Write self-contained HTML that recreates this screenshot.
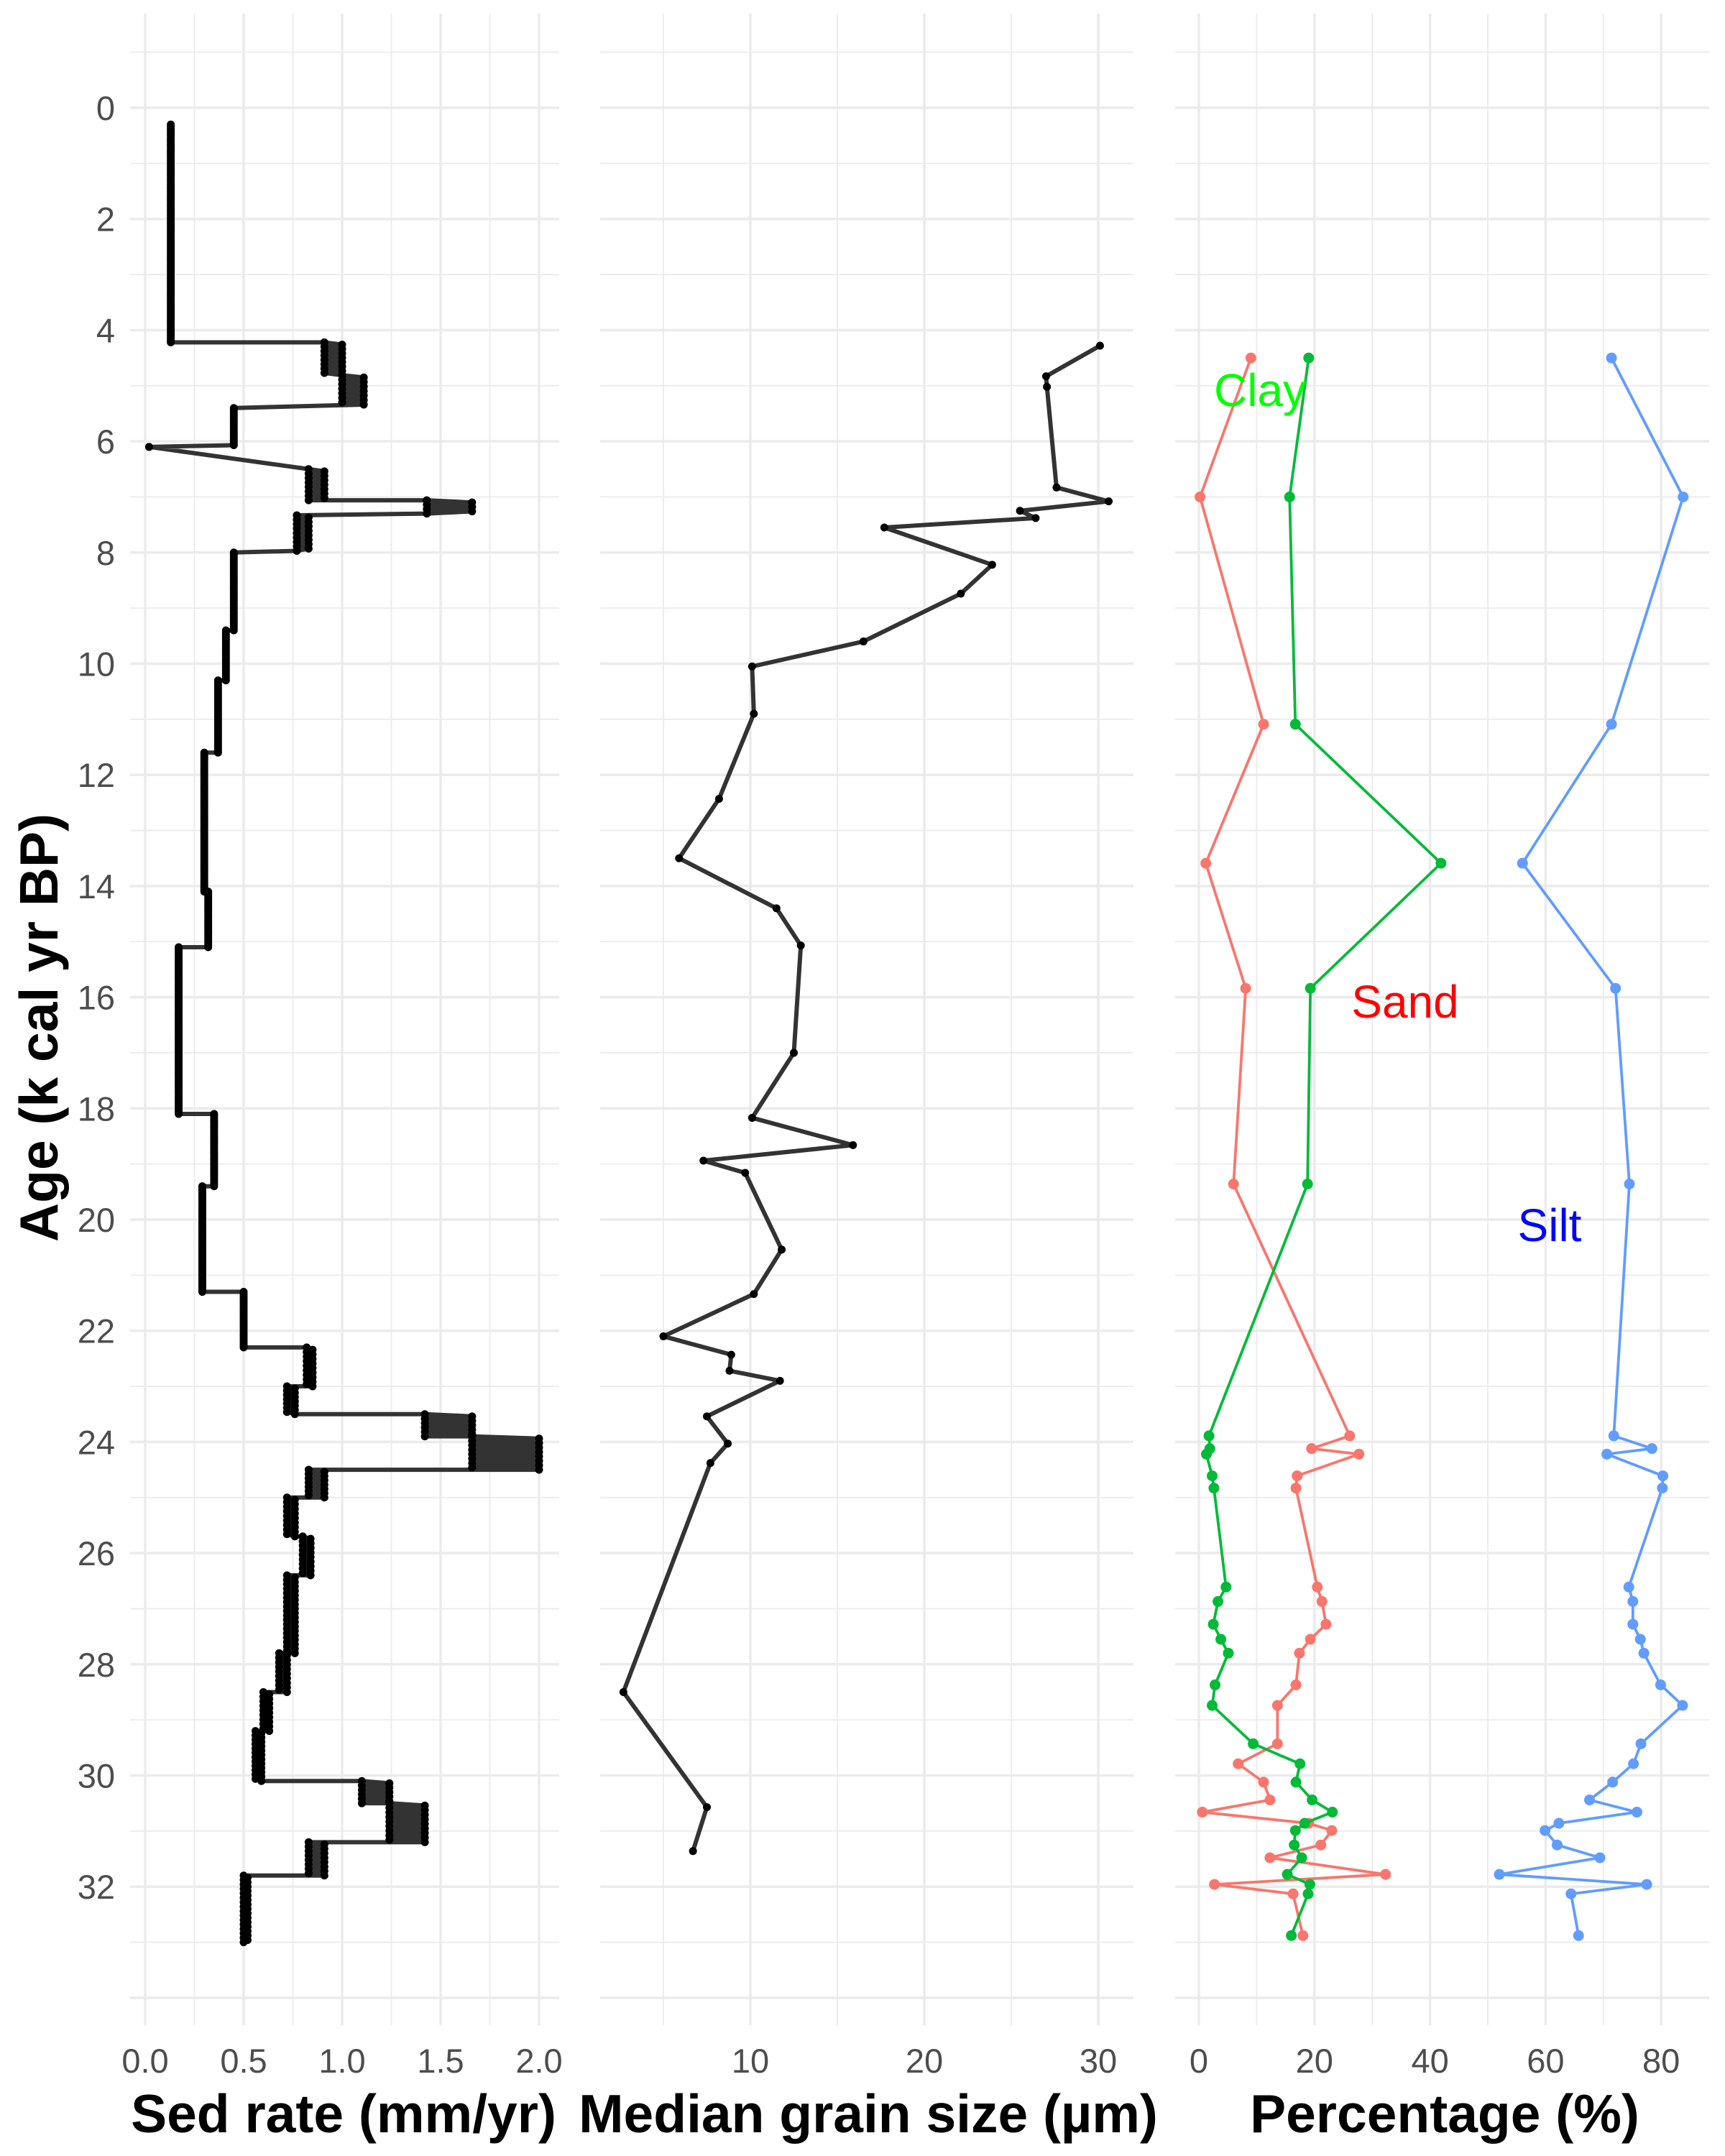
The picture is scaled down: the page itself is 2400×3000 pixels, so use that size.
<!DOCTYPE html>
<html><head><meta charset="utf-8"><style>
html,body{margin:0;padding:0;background:#fff}
svg{display:block}
text{font-family:"Liberation Sans",sans-serif}
</style></head><body>
<svg id="chart" width="2400" height="3000" viewBox="0 0 2400 3000" xmlns="http://www.w3.org/2000/svg"></svg>
<script>
// ---- Data ----
const sedStart = [0.3,4.22,4.81,5.4,6.1,6.5,7.06,7.33,8.0,9.4,10.3,11.6,14.1,15.1,18.1,19.4,21.3,22.3,23.0,23.5,23.9,24.5,25.0,25.7,26.4,27.8,28.5,29.2,30.1,30.5,31.2,31.8];
const sedEnd   = [4.22,4.81,5.34,6.07,6.1,7.06,7.3,7.97,9.4,10.3,11.6,14.1,15.1,18.1,19.4,21.3,22.3,23.0,23.5,23.9,24.5,25.0,25.7,26.4,27.8,28.5,29.2,30.1,30.5,31.2,31.8,33.0];
const sedRateA = [0.13,0.91,1.0,0.45,0.02,0.83,1.43,0.77,0.45,0.41,0.37,0.30,0.32,0.17,0.35,0.29,0.5,0.82,0.72,1.42,1.66,0.83,0.72,0.80,0.72,0.68,0.60,0.56,1.10,1.24,0.83,0.50];
const sedRateB = [0.13,1.0,1.11,0.45,0.02,0.91,1.66,0.83,0.45,0.41,0.37,0.30,0.32,0.17,0.35,0.29,0.5,0.85,0.76,1.66,2.0,0.91,0.76,0.84,0.76,0.72,0.63,0.59,1.24,1.42,0.91,0.52];
const sedTicks = [0,0.5,1,1.5,2];
const sedTickLabels = ["0.0","0.5","1.0","1.5","2.0"];

const grainAge = [4.28,4.83,5.02,6.83,7.08,7.25,7.38,7.55,8.22,8.74,9.6,10.05,10.9,12.43,13.5,14.4,15.07,17.0,18.17,18.66,18.94,19.16,20.54,21.34,22.1,22.43,22.72,22.9,23.54,24.03,24.38,28.5,30.57,31.36];
const grainVal = [30.1,27.0,27.05,27.6,30.6,25.5,26.4,17.7,23.9,22.1,16.5,10.1,10.2,8.2,5.9,11.5,12.9,12.5,10.1,15.9,7.3,9.7,11.8,10.2,5.0,8.9,8.8,11.7,7.5,8.7,7.7,2.7,7.5,6.7];
const grainTicks = [10,20,30];

const pctAge  = [4.5,7.0,11.09,13.59,15.84,19.36,23.89,24.12,24.22,24.61,24.83,26.61,26.87,27.28,27.55,27.8,28.37,28.74,29.43,29.79,30.12,30.44,30.66,30.86,30.99,31.25,31.48,31.78,31.96,32.13,32.88];
const sandPct = [9.0,0.2,11.2,1.2,8.1,6.0,26.1,19.5,27.7,17.0,16.8,20.5,21.3,22.0,19.3,17.4,16.8,13.6,13.6,6.8,11.2,12.3,0.6,19.0,23.0,21.1,12.3,32.3,2.7,16.3,18.0];
const clayPct = [19.0,15.7,16.7,41.9,19.3,18.8,1.75,1.9,1.3,2.3,2.6,4.7,3.3,2.5,3.8,5.1,2.8,2.3,9.4,17.5,16.8,19.6,23.1,18.3,16.7,16.5,17.8,15.3,19.2,18.9,16.0];
const siltPct = [71.4,83.8,71.4,56.0,72.1,74.5,71.8,78.4,70.6,80.3,80.2,74.4,75.1,75.1,76.4,77.0,79.9,83.7,76.5,75.2,71.6,67.6,75.8,62.3,59.9,62.0,69.4,52.0,77.5,64.4,65.7];
const pctTicks = [0,20,40,60,80];
const ageTicks = [0,2,4,6,8,10,12,14,16,18,20,22,24,26,28,30,32];

// ---- Scales ----
const svg = document.getElementById('chart');
const NS = 'http://www.w3.org/2000/svg';
const yS = a => 150 + 77.35 * a;
const xSed = v => 202 + 274 * v;
const xGrain = v => 1044 + 24.2 * (v - 10);
const xPct = v => 1668 + 8.04 * v;
const TOP = 19, BOT = 2818;
function mk(tag, attrs, parent){const e=document.createElementNS(NS,tag);for(const k in attrs)e.setAttribute(k,attrs[k]);(parent||svg).appendChild(e);return e;}

function panel(name,x0,x1,vMinor,vMajor,xs){
  const g = mk('g',{});
  
  
  for(let a=-1;a<=34;a++){
    const major=a%2===0;
    mk('line',{x1:x0,x2:x1,y1:yS(a),y2:yS(a),stroke:'#EBEBEB','stroke-width':major?3.5:1.8},g);
  }
  vMinor.forEach(v=>mk('line',{x1:xs(v),x2:xs(v),y1:TOP,y2:BOT,stroke:'#EBEBEB','stroke-width':1.8},g));
  vMajor.forEach(v=>mk('line',{x1:xs(v),x2:xs(v),y1:TOP,y2:BOT,stroke:'#EBEBEB','stroke-width':3.5},g));
}
panel('sed-rate',181,778,[0.25,0.75,1.25,1.75],sedTicks,xSed);
panel('grain-size',835,1577,[5,15,25],grainTicks,xGrain);
panel('percentage',1635,2378,[10,30,50,70],pctTicks,xPct);

const yt = mk('g',{});


ageTicks.forEach(a=>{const t=mk('text',{x:160,y:yS(a)+17,'text-anchor':'end','font-size':47,fill:'#4D4D4D'},yt);t.textContent=a;});
const yTitle = mk('text',{x:0,y:0,transform:'translate(80,1430) rotate(-90)','text-anchor':'middle','font-size':75,'font-weight':'bold',fill:'#000'});


yTitle.textContent='Age (k cal yr BP)';

function xticks(name,ticks,labels,xs){
  const g=mk('g',{});
  
  
  ticks.forEach((v,i)=>{const t=mk('text',{x:xs(v),y:2884,'text-anchor':'middle','font-size':47,fill:'#4D4D4D'},g);t.textContent=labels[i];});
}
xticks('sed-rate',sedTicks,sedTickLabels,xSed);
xticks('grain-size',grainTicks,grainTicks.map(String),xGrain);
xticks('percentage',pctTicks,pctTicks.map(String),xPct);
function xtitle(name,txt,cx){const t=mk('text',{x:cx,y:2967,'text-anchor':'middle','font-size':75,'font-weight':'bold',fill:'#000'});t.textContent=txt;}
xtitle('sed-rate-x-title','Sed rate (mm/yr)',478);
xtitle('grain-size-x-title','Median grain size (µm)',1208);
xtitle('percentage-x-title','Percentage (%)',2010);

// ---- Sed rate ----
const sedPts=[];
for(let i=0;i<sedStart.length;i++){
  const n=Math.max(1,Math.round((sedEnd[i]-sedStart[i])/0.04));
  for(let k=0;k<=n;k++){
    const a=sedStart[i]+(sedEnd[i]-sedStart[i])*k/n;
    const r=(k%2===0)?sedRateA[i]:sedRateB[i];
    sedPts.push([xSed(r),yS(a)]);
  }
}
const sedLine=mk('polyline',{points:sedPts.map(p=>p.join(',')).join(' '),fill:'none',stroke:'#333','stroke-width':6,'stroke-linejoin':'round'});


const sedG=mk('g',{});


sedPts.forEach(p=>mk('circle',{cx:p[0],cy:p[1],r:5.5,fill:'#000'},sedG));

// ---- Grain size ----
const gp=grainAge.map((a,i)=>[xGrain(grainVal[i]),yS(a)]);
const gl=mk('polyline',{points:gp.map(p=>p.join(',')).join(' '),fill:'none',stroke:'#333','stroke-width':6,'stroke-linejoin':'round'});


const gg=mk('g',{});


gp.forEach(p=>mk('circle',{cx:p[0],cy:p[1],r:5.5,fill:'#000'},gg));

// ---- Percentages ----
function pctSeries(name,vals,col){
  const pts=pctAge.map((a,i)=>[xPct(vals[i]),yS(a)]);
  const g=mk('g',{});
  
  
  mk('polyline',{points:pts.map(p=>p.join(',')).join(' '),fill:'none',stroke:col,'stroke-width':3.8,'stroke-linejoin':'round'},g);
  pts.forEach(p=>mk('circle',{cx:p[0],cy:p[1],r:7.5,fill:col},g));
}
pctSeries('sand',sandPct,'#F8766D');
pctSeries('clay',clayPct,'#00BA38');
pctSeries('silt',siltPct,'#619CFF');
function lab(name,txt,x,y,col){const t=mk('text',{x:x,y:y,'text-anchor':'middle','font-size':64,fill:col});t.textContent=txt;}
lab('clay-label','Clay',1753,565,'#00FF00');
lab('sand-label','Sand',1955,1416,'#FF0000');
lab('silt-label','Silt',2156,1727,'#0000FF');
</script>
</body></html>
